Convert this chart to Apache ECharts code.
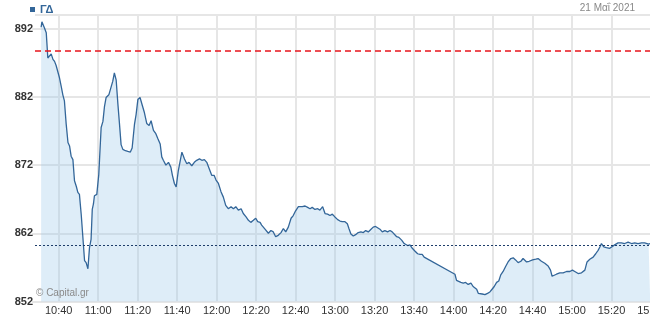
<!DOCTYPE html>
<html><head><meta charset="utf-8">
<script src="https://cdn.jsdelivr.net/npm/echarts/dist/echarts.min.js"></script>
<style>html,body{margin:0;padding:0;background:#fff}#c{width:650px;height:318px}</style>
</head><body><div id="c"></div>
<script>
// ---- data (times in minutes after midnight) ----
const seriesName = 'ΓΔ';
const dateText = '21 Μαΐ 2021';
const watermarkText = '© Capital.gr';
const times = [
  631.1,631.5,632.8,633.7,634.5,635.3,636.2,637.1,637.9,638.7,
  639.6,640.4,641.3,642.1,642.9,643.8,644.7,645.5,646.3,647.2,
  648.0,648.9,649.7,650.5,651.4,652.2,653.1,653.9,654.8,655.6,
  656.4,657.0,657.6,658.1,659.3,660.3,661.5,662.4,663.2,664.0,
  665.4,666.6,667.4,668.2,669.1,670.0,670.8,671.6,672.5,673.8,
  675.0,676.3,677.2,678.4,679.2,680.1,681.2,
  682.4,683.4,684.6,685.8,686.8,688.0,689.2,690.2,691.4,692.2,
  693.0,694.3,695.6,696.8,697.6,698.6,699.5,700.6,702.4,703.7,
  704.9,706.0,707.4,708.7,709.9,711.3,712.5,713.8,715.0,716.2,
  717.5,718.7,719.7,720.9,722.2,723.4,724.6,725.9,727.3,728.5,
  729.7,731.0,732.4,733.5,734.9,736.1,737.3,738.6,739.8,740.8,
  742.0,
  742.8,744.5,746.2,747.5,748.7,749.9,751.2,752.6,753.8,755.0,
  756.3,757.7,758.8,760.0,761.4,762.2,763.4,764.8,766.1,767.3,
  768.4,769.8,771.2,772.3,773.7,774.9,776.2,777.4,778.6,779.9,
  781.3,782.5,783.6,785.0,786.2,787.0,788.0,789.2,790.4,791.7,
  793.1,794.3,795.5,796.8,798.2,799.3,800.5,801.5,802.7,803.9,
  805.2,806.6,807.8,808.9,809.9,811.2,812.3,813.7,815.0,
  816.7,817.9,819.1,820.4,821.8,823.0,824.1,825.1,840.7,
  841.5,842.3,843.7,844.9,846.1,847.4,848.8,849.9,850.8,851.7,
  852.5,853.3,854.5,855.9,857.2,858.4,859.5,860.6,861.8,862.9,
  863.9,865.1,866.3,867.6,869.0,870.2,871.4,872.7,874.1,875.2,
  877.0,878.3,880.0,881.7,882.8,884.5,886.2,887.9,889.1,889.9,
  892.1,893.8,895.5,897.2,898.9,900.2,901.4,903.1,904.8,906.5,
  907.6,909.0,910.7,912.0,913.2,914.1,914.9,916.1,917.4,919.1,
  920.0,921.6,923.3,925.0,926.7,928.4,930.1,931.8,933.4,935.2,
  936.8,938.8,939.6
];
const values = [
  892.2,893.0,892.1,891.4,887.7,887.9,888.3,887.5,887.2,886.6,
  886.5,884.8,883.5,882.3,881.4,878.0,875.3,874.8,873.3,872.8,
  869.7,868.9,868.0,867.7,864.8,861.6,858.0,857.7,856.8,859.9,
  861.1,865.5,866.3,867.5,867.7,870.6,877.5,878.4,880.6,881.9,
  882.3,883.5,884.3,885.5,884.5,880.9,878.0,875.0,874.3,874.1,
  874.0,873.9,874.5,878.0,879.4,881.6,881.9,
  880.7,879.7,878.1,877.8,878.5,877.1,876.6,875.9,875.1,873.2,
  872.7,872.0,872.4,871.7,870.5,869.3,868.8,871.2,873.9,872.9,
  872.2,872.4,871.9,872.4,872.7,872.9,872.7,872.8,872.4,871.5,
  870.5,870.5,869.8,869.3,868.1,867.3,866.1,865.6,865.9,865.6,
  865.9,865.4,865.6,864.9,864.4,863.9,863.6,863.9,864.2,863.7,
  863.6,
  863.2,862.6,862.0,862.4,862.2,861.5,861.7,862.1,862.7,862.2,
  862.9,864.2,864.6,865.3,865.9,866.1,865.9,866.0,865.8,865.6,
  865.8,865.5,865.6,865.4,865.9,864.9,864.8,864.6,864.8,864.4,
  864.0,863.8,863.7,863.7,863.4,862.7,861.9,861.6,861.8,862.1,
  862.2,862.1,862.4,862.2,862.6,862.9,863.0,862.8,862.6,862.2,
  862.4,862.2,862.4,862.2,862.0,861.5,861.4,861.0,860.5,
  860.2,860.3,859.8,859.4,859.0,858.9,858.9,858.5,856.0,
  855.1,854.9,854.8,854.7,854.8,854.5,854.7,854.2,854.3,853.8,
  853.2,853.0,853.1,853.0,853.2,853.4,853.8,854.2,854.8,855.0,
  855.9,856.4,857.1,857.8,858.3,858.4,858.1,857.7,857.9,858.3,
  857.8,857.9,858.1,858.2,858.3,857.9,857.6,857.2,856.6,855.7,
  856.0,856.2,856.2,856.4,856.4,856.6,856.4,856.1,856.2,856.6,
  857.8,858.2,858.5,859.0,859.5,860.0,860.5,860.0,859.9,859.8,
  860.0,860.3,860.6,860.6,860.5,860.7,860.5,860.6,860.5,860.6,
  860.6,860.4,860.5
];
const xTickTimes = [640,660,680,700,720,740,760,780,800,820,840,860,880,900,920,940];
const yMin = 852, yMax = 894, yStep = 10;
const redLevel = 888.8;
const dottedLevel = 860.3;

function fmtTime(v){
  const h = Math.floor(v/60), m = Math.round(v - h*60);
  return h + ':' + (m < 10 ? '0' + m : m);
}

const chart = echarts.init(document.getElementById('c'), null, {renderer:'canvas'});
const n = Math.min(times.length, values.length);
const pts = [];
for (let i = 0; i < n; i++) pts.push([times[i], values[i]]);

chart.setOption({
  animation: false,
  backgroundColor: '#fff',
  textStyle: {fontFamily: '"Liberation Sans", Arial, sans-serif'},
  grid: {left: 35, right: -1, top: 15, bottom: 16.5, containLabel: false, outerBoundsMode: 'none'},
  legend: {
    left: 30, top: 4, padding: 0, icon: 'rect', itemWidth: 5, itemHeight: 5,
    selectedMode: false,
    textStyle: {color: '#336699', fontWeight: 'bold', fontSize: 11},
    data: [seriesName]
  },
  xAxis: {
    type: 'value', min: 628, max: 940,
    axisLine: {show: false},
    axisTick: {show: false, customValues: xTickTimes},
    axisLabel: {customValues: xTickTimes, formatter: fmtTime, color: '#333', fontSize: 11, margin: 4},
    splitLine: {show: true, lineStyle: {color: '#e6e6e6', width: 2}}
  },
  yAxis: {
    type: 'value', min: yMin, max: yMax, interval: yStep,
    axisLine: {show: false},
    axisTick: {show: true, length: 3, lineStyle: {color: '#e6e6e6', width: 2}},
    axisLabel: {showMaxLabel: false, color: '#333', fontWeight: 'bold', fontSize: 11, margin: 2},
    splitLine: {show: true, lineStyle: {color: '#e6e6e6', width: 2}}
  },
  graphic: [
    {type: 'text', right: 15, top: 3, z: 100,
     style: {text: dateText, fill: '#888', font: '10px "Liberation Sans", Arial, sans-serif'}},
    {type: 'text', left: 36, top: 288, z: 100,
     style: {text: watermarkText, fill: '#8a8a8a', font: '10px "Liberation Sans", Arial, sans-serif'}}
  ],
  series: [{
    name: seriesName, type: 'line', data: pts, showSymbol: false, symbol: 'none',
    lineStyle: {color: '#336699', width: 1.3},
    itemStyle: {color: '#336699'},
    areaStyle: {color: 'rgba(150,198,232,0.45)'},
    markLine: {
      silent: true, symbol: 'none', label: {show: false},
      data: [
        {yAxis: redLevel, lineStyle: {color: '#e8141b', type: [6, 4], width: 1.5}},
        {yAxis: dottedLevel, lineStyle: {color: '#1d3d6a', type: [2, 2], width: 1}}
      ]
    }
  }]
});
</script></body></html>
